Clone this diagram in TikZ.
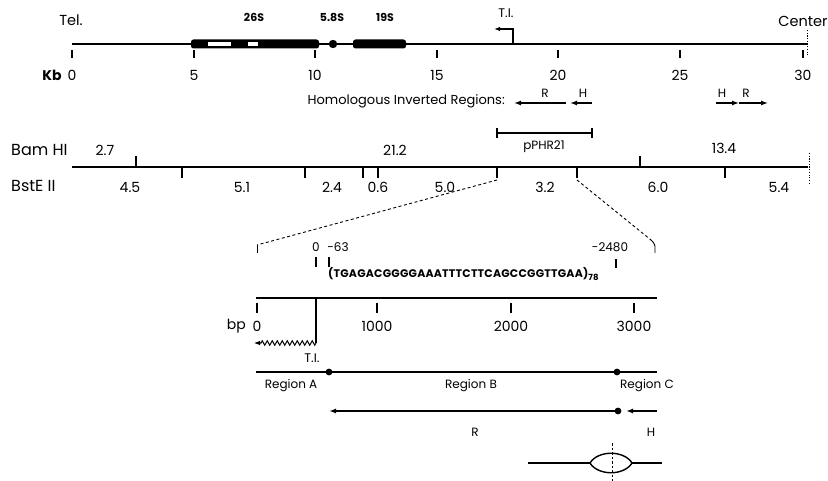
\documentclass[tikz,border=0pt]{standalone}
\usepackage{fontspec}
\setmainfont{Poppins}
\usetikzlibrary{arrows.meta,decorations.pathmorphing}
\begin{document}
\begin{tikzpicture}[x=1pt,y=-1pt,
  txt/.style={inner sep=0pt,anchor=center},
  big/.style={txt,font=\fontsize{14}{14}\selectfont},
  mid/.style={txt,font=\fontsize{12}{12}\selectfont},
  sml/.style={txt,font=\fontsize{12.5}{13}\selectfont},
  gene/.style={txt,font=\bfseries\fontsize{11}{11}\selectfont},
  chrom/.style={line width=1.6pt},
  tickl/.style={line width=1.1pt},
  arr/.style={line width=1.6pt,-{Latex[length=7pt,width=5pt]}},
  dsh/.style={line width=0.9pt,dash pattern=on 3pt off 2.5pt},
  dotv/.style={line width=1pt,dash pattern=on 1.2pt off 1.5pt}]
\useasboundingbox (0,0) rectangle (828,481);

% ---------- top chromosome map ----------
\coordinate (tel) at (72,44);
\coordinate (cen) at (807,44);
\draw[chrom] (tel) -- (cen);
\draw[dotv] (807,30) -- (807,57);
\node[txt,font=\fontsize{14.5}{15}\selectfont] (tellbl) at (71,20) {Tel.};
\node[txt,font=\fontsize{14.5}{15}\selectfont] (cenlbl) at (803,21) {Center};
\node[txt,font=\bfseries\fontsize{14}{14}\selectfont] (kb) at (52,75) {Kb};
\foreach \k/\x in {0/72,5/194,10/315,15/437,20/558,25/680,30/803}{
  \draw[tickl] (\x,50) -- (\x,58);
  \node[big] (kb\k) at (\x,75) {\k};
}
% rRNA genes
\fill[rounded corners=2.5pt] (191,39.5) rectangle (319,48.5);
\fill[white] (208,42) rectangle (231,46);
\fill[white] (248,42) rectangle (258,46);
\fill (333,44) circle (4.2pt);
\fill[rounded corners=2.5pt] (353,39.5) rectangle (406,48.5);
\node[gene] (l26) at (254,17) {26S};
\node[gene] (l58) at (332,17) {5.8S};
\node[gene] (l19) at (385,17) {19S};
% T.I.
\coordinate (ti0) at (513,44);
\coordinate (ti1) at (513,29);
\coordinate (ti2) at (494,29);
\draw[line width=1.3pt,-{Latex[length=6pt,width=4.5pt]}] (ti0) -- (ti1) -- (ti2);
\node[sml] (tilbl) at (506,13) {T.I.};

% ---------- homologous inverted regions ----------
\node[txt,anchor=east,font=\fontsize{13}{13}\selectfont] (hir) at (505,101) {Homologous Inverted Regions:};
\coordinate (r1a) at (566,103); \coordinate (r1b) at (514,103);
\coordinate (h1a) at (592,103); \coordinate (h1b) at (570,103);
\coordinate (h2a) at (716,103); \coordinate (h2b) at (739,103);
\coordinate (r2a) at (739,103); \coordinate (r2b) at (768,103);
\draw[arr,line width=1.3pt] (r1a) -- (r1b);
\draw[arr,line width=1.3pt] (h1a) -- (h1b);
\draw[arr,line width=1.3pt] (h2a) -- (h2b);
\draw[arr,line width=1.3pt] (r2a) -- (r2b);
\node[mid] (rl1) at (545,93) {R};
\node[mid] (hl1) at (583,93) {H};
\node[mid] (hl2) at (722,93) {H};
\node[mid] (rl2) at (746,93) {R};

% pPHR21
\coordinate (pa) at (497,133); \coordinate (pb) at (592,133);
\draw[line width=1.3pt] (pa) -- (pb);
\draw[line width=1.3pt] (497,128) -- (497,138) (592,128) -- (592,138);
\node[txt,font=\fontsize{12}{12}\selectfont] (pphr) at (544,147) {pPHR21};

% ---------- restriction map ----------
\coordinate (ra) at (72,167); \coordinate (rb) at (808,167);
\draw[line width=2.2pt] (ra) -- (rb);
\draw[dotv] (809,153) -- (809,184);
\foreach \x in {136,640}{ \draw[tickl] (\x,156) -- (\x,167); }
\foreach \x in {182,305,363,378,497,577,725}{ \draw[tickl] (\x,167) -- (\x,178); }
\node[txt,anchor=west,font=\fontsize{16}{16}\selectfont] (bam) at (11,150) {Bam H{\rmfamily I}};
\node[txt,anchor=west,font=\fontsize{16}{16}\selectfont] (bst) at (11,186) {BstE {\rmfamily II}};
\node[big] (b1) at (105,150) {2.7};
\node[big] (b2) at (395,150) {21.2};
\node[big] (b3) at (724,148) {13.4};
\foreach \v/\x in {4.5/130,5.1/242,2.4/332,0.6/378,5.0/445,3.2/545,6.0/658,5.4/779}{
  \node[big] at (\x,187) {\v};
}

% ---------- expansion ----------
\coordinate (ea) at (497,180);
\coordinate (eb) at (577,180);
\coordinate (el) at (257,245);
\coordinate (er) at (651,240);
\draw[dsh] (ea) -- (el);
\draw[line width=0.9pt] (el) -- (257,253);
\draw[dsh] (eb) -- (er);
\draw[line width=0.9pt] (er) .. controls (654,243) .. (655,246) -- (655,253);

\node[txt,font=\fontsize{12}{12}\selectfont] (n0) at (316,247) {0};
\node[txt,font=\fontsize{12}{12}\selectfont] (n63) at (338,247) {-63};
\node[txt,font=\fontsize{12}{12}\selectfont] (n2480) at (610,247) {-2480};
\draw[tickl] (316,257) -- (316,267);
\draw[tickl] (329,257) -- (329,267);
\draw[tickl] (616,259) -- (616,268);
\node[txt,anchor=west,font=\bfseries\fontsize{11}{11}\selectfont] (seq) at (328,274)
  {\addfontfeature{LetterSpace=2}(TGAGACGGGGAAATTTCTTCAGCCGGTTGAA)\raisebox{-3.5pt}{\fontsize{8.5}{8.5}\selectfont 78}};

\coordinate (bpa) at (256,298); \coordinate (bpb) at (657,298);
\draw[line width=2.6pt] (bpa) -- (bpb);
\foreach \v/\x in {0/257,1000/377,2000/511,3000/634}{
  \draw[tickl] (\x,303) -- (\x,313);
  \node[big] at (\x,326) {\v};
}
\node[big,anchor=east] (bp) at (246,326) {bp};

% transcription initiation
\coordinate (tb0) at (316,298);
\coordinate (tb1) at (316,343);
\coordinate (tb2) at (254,343);
\draw[line width=1.2pt] (tb0) -- (tb1);
\draw[line width=1pt,decorate,decoration={zigzag,segment length=5pt,amplitude=2.2pt,post length=6pt},-{Latex[length=6pt,width=4.5pt]}] (tb1) -- (tb2);
\node[sml] (til2) at (312,358) {T.I.};

% regions
\coordinate (rga) at (256,372); \coordinate (rgb) at (657,372);
\draw[line width=1.8pt] (rga) -- (rgb);
\fill (329,372) circle (3.4pt);
\fill (617,372) circle (3.4pt);
\node[mid] (regA) at (291,386) {Region A};
\node[mid] (regB) at (471,386) {Region B};
\node[mid] (regC) at (647,386) {Region C};

% inverted repeat arrows
\coordinate (Ra) at (618,411); \coordinate (Rb) at (329,411);
\coordinate (Ha) at (657,411); \coordinate (Hb) at (626,411);
\draw[arr,line width=1.8pt] (Ra) -- (Rb);
\fill (618,411) circle (3.4pt);
\draw[arr,line width=1.8pt] (Ha) -- (Hb);
\node[mid] (Rl) at (475,432) {R};
\node[mid] (Hl) at (651,432) {H};

% cruciform / bubble
\coordinate (ba) at (528,463); \coordinate (bb) at (590,463);
\coordinate (bc) at (632,463); \coordinate (bd) at (662,463);
\draw[line width=1.4pt] (ba) -- (bb);
\draw[line width=1.4pt] (bb) .. controls (598,450) and (624,450) .. (bc);
\draw[line width=1.4pt] (bb) .. controls (598,476) and (624,476) .. (bc);
\draw[line width=1.4pt] (bc) -- (bd);
\draw[line width=0.8pt,dash pattern=on 2.5pt off 2pt] (612,443) -- (612,481);
\end{tikzpicture}
\end{document}
